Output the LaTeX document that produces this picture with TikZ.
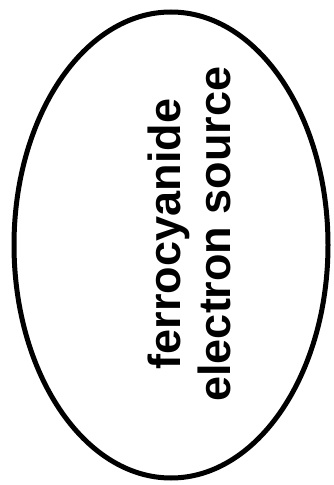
\documentclass[tikz,border=0pt]{standalone}
\usepackage{fontspec}
\setmainfont{Liberation Sans}
\usetikzlibrary{shapes.geometric}

\begin{document}
\begin{tikzpicture}[
  x=1pt, y=1pt,
  oval/.style={ellipse, draw, line width=5pt, inner sep=0pt,
    minimum width=314pt, minimum height=466pt},
  ovaltext/.style={rotate=90, align=center, inner sep=0pt,
    font=\fontsize{45}{50}\selectfont\bfseries}
]
  \useasboundingbox (0,0) rectangle (334,485);
  \node[oval] (src) at (171,240) {};
  \node[ovaltext] (srclabel) at ([shift={(18,11)}]src.center)
    {ferrocyanide\\electron source};
\end{tikzpicture}
\end{document}
